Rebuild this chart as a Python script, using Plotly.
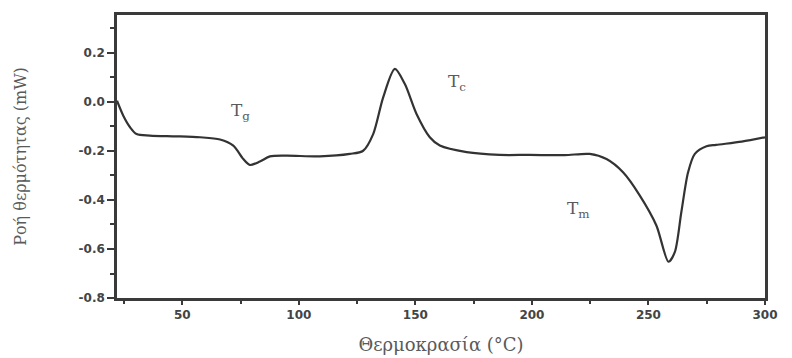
import plotly.graph_objects as go

# DSC thermogram: heat flow vs temperature
temperature = [22, 24.7, 27.6, 30.4, 36.1, 47.6, 57.6, 66.2, 71.9, 76.2, 79, 83.3, 87.6,
               94.7, 109, 121.9, 127.6, 131.9, 136.2, 141.2, 145.5, 150.5, 156.2, 160.5,
               172, 186.2, 199, 214, 224.8, 232, 239.1, 246.3, 253.4, 258.6, 261.3,
               264.1, 267, 269.9, 274.9, 279, 290, 300]
heat_flow = [0.005, -0.056, -0.103, -0.131, -0.137, -0.14, -0.144, -0.153, -0.178, -0.233,
             -0.257, -0.243, -0.222, -0.219, -0.222, -0.212, -0.199, -0.131, 0.019, 0.135,
             0.073, -0.049, -0.144, -0.178, -0.205, -0.216, -0.216, -0.217, -0.212, -0.233,
             -0.287, -0.382, -0.504, -0.652, -0.613, -0.45, -0.287, -0.212, -0.181, -0.175,
             -0.162, -0.144]

x_ticks = [50, 100, 150, 200, 250, 300]
y_ticks = [0.2, 0.0, -0.2, -0.4, -0.6, -0.8]
y_tick_text = ["0.2", "0.0", "-0.2", "-0.4", "-0.6", "-0.8"]

labels = ["T<sub>g</sub>", "T<sub>c</sub>", "T<sub>m</sub>"]
label_x = [75, 168, 220]
label_y = [-0.04, 0.078, -0.44]

axis_color = "#3a3a3a"
text_color = "#5a5a5a"
serif = "DejaVu Serif"
tick_font = dict(family="DejaVu Sans", size=12, color="#444", weight="bold")

fig = go.Figure()
fig.add_trace(go.Scatter(
    x=temperature, y=heat_flow, mode="lines",
    line=dict(color="#333333", width=2.2, shape="spline", smoothing=0.8),
    showlegend=False, hoverinfo="skip",
))

for txt, xv, yv in zip(labels, label_x, label_y):
    fig.add_annotation(x=xv, y=yv, text=txt, showarrow=False,
                       font=dict(family=serif, size=17, color=text_color))

fig.update_xaxes(
    range=[22, 300], tickvals=x_ticks,
    ticktext=[str(v) for v in x_ticks],
    ticks="outside", ticklen=4, tickwidth=2, tickcolor=axis_color,
    minor=dict(ticks="outside", ticklen=3, tickwidth=2, tickcolor=axis_color, dtick=25, tick0=0),
    showline=True, linecolor=axis_color, linewidth=2.5, mirror=True,
    showgrid=False, zeroline=False, tickfont=tick_font, automargin=False,
    title=dict(text="Θερμοκρασία (°C)", font=dict(family=serif, size=18, color=text_color),
               standoff=18),
)
fig.update_yaxes(
    range=[-0.8, 0.355], tickvals=y_ticks,
    ticktext=y_tick_text,
    ticks="outside", ticklen=7, tickwidth=2, tickcolor=axis_color,
    minor=dict(ticks="outside", ticklen=4, tickwidth=2, tickcolor=axis_color, dtick=0.1, tick0=0),
    showline=True, linecolor=axis_color, linewidth=2.5, mirror=True,
    showgrid=False, zeroline=False, tickfont=tick_font, automargin=False,
    title=dict(text="Ροή θερμότητας (mW)", font=dict(family=serif, size=16, color=text_color),
               standoff=48),
)

fig.update_layout(
    width=792, height=358,
    margin=dict(l=117, r=27, t=15, b=60),
    paper_bgcolor="white", plot_bgcolor="white",
)

fig.write_html("out.html")
